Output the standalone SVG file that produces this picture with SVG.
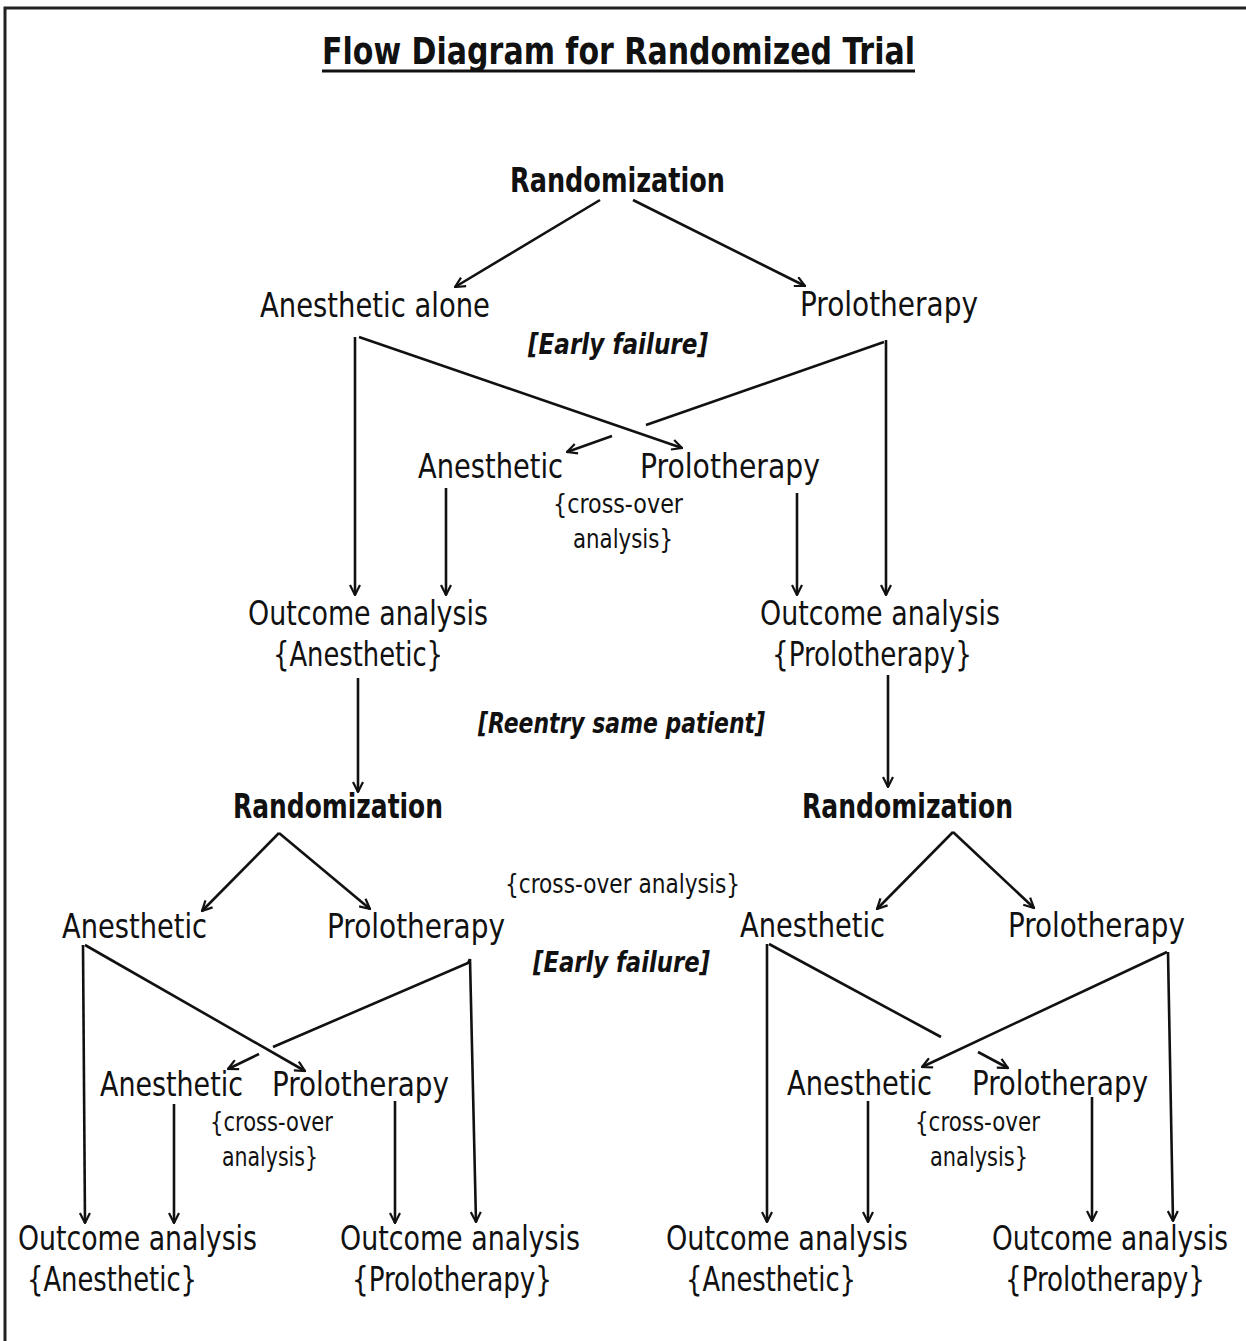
<svg xmlns="http://www.w3.org/2000/svg" width="1246" height="1341" viewBox="0 0 1246 1341">
<defs>
<marker id="ah" viewBox="0 0 12 12" refX="11" refY="6" markerWidth="12" markerHeight="12" markerUnits="userSpaceOnUse" orient="auto">
<path d="M1,1 L11,6 L1,11" fill="none" stroke="#111" stroke-width="2.2"/>
</marker>
<style>
text{font-family:"DejaVu Sans","Liberation Sans",Arial,sans-serif;font-stretch:condensed;fill:#111;}
.t{font-size:38px;font-weight:bold;}
.r{font-size:33px;font-weight:bold;}
.n{font-size:33px;}
.s{font-size:26px;}
.i{font-size:28px;font-style:italic;font-weight:bold;}
.c line,.c polyline{stroke:#111;stroke-width:2.6;fill:none;}
.a{marker-end:url(#ah);}
</style>
</defs>
<rect width="1246" height="1341" fill="#fff"/>
<path d="M5,1341 V8 H1246" fill="none" stroke="#222" stroke-width="3"/>
<g id="title">
<text class="t" x="322" y="64" textLength="593" lengthAdjust="spacingAndGlyphs">Flow Diagram for Randomized Trial</text>
<line x1="322" y1="71" x2="915" y2="71" stroke="#111" stroke-width="3"/>
</g>
<g id="rand1"><text class="r" x="510" y="192" textLength="215" lengthAdjust="spacingAndGlyphs">Randomization</text></g>
<g id="anes-alone"><text class="n" x="260" y="317" textLength="230" lengthAdjust="spacingAndGlyphs">Anesthetic alone</text></g>
<g id="prolo1"><text class="n" x="800" y="316" textLength="178" lengthAdjust="spacingAndGlyphs">Prolotherapy</text></g>
<g id="early1"><text class="i" x="528" y="354" textLength="180" lengthAdjust="spacingAndGlyphs">[Early failure]</text></g>
<g id="anes-x1"><text class="n" x="418" y="478" textLength="145" lengthAdjust="spacingAndGlyphs">Anesthetic</text></g>
<g id="prolo-x1"><text class="n" x="640" y="478" textLength="180" lengthAdjust="spacingAndGlyphs">Prolotherapy</text></g>
<g id="cross1"><text class="s" x="553" y="513" textLength="130" lengthAdjust="spacingAndGlyphs">{cross-over</text><text class="s" x="573" y="548" textLength="100" lengthAdjust="spacingAndGlyphs">analysis}</text></g>
<g id="out-a1"><text class="n" x="248" y="625" textLength="240" lengthAdjust="spacingAndGlyphs">Outcome analysis</text><text class="n" x="273" y="666" textLength="170" lengthAdjust="spacingAndGlyphs">{Anesthetic}</text></g>
<g id="out-p1"><text class="n" x="760" y="625" textLength="240" lengthAdjust="spacingAndGlyphs">Outcome analysis</text><text class="n" x="772" y="666" textLength="200" lengthAdjust="spacingAndGlyphs">{Prolotherapy}</text></g>
<g id="reentry"><text class="i" x="478" y="733" textLength="287" lengthAdjust="spacingAndGlyphs">[Reentry same patient]</text></g>
<g id="rand2"><text class="r" x="233" y="818" textLength="210" lengthAdjust="spacingAndGlyphs">Randomization</text></g>
<g id="rand3"><text class="r" x="802" y="818" textLength="211" lengthAdjust="spacingAndGlyphs">Randomization</text></g>
<g id="cross-mid"><text class="s" x="505" y="893" textLength="235" lengthAdjust="spacingAndGlyphs">{cross-over analysis}</text></g>
<g id="anes2"><text class="n" x="62" y="938" textLength="145" lengthAdjust="spacingAndGlyphs">Anesthetic</text></g>
<g id="prolo2"><text class="n" x="327" y="938" textLength="178" lengthAdjust="spacingAndGlyphs">Prolotherapy</text></g>
<g id="early2"><text class="i" x="533" y="972" textLength="177" lengthAdjust="spacingAndGlyphs">[Early failure]</text></g>
<g id="anes3"><text class="n" x="740" y="937" textLength="145" lengthAdjust="spacingAndGlyphs">Anesthetic</text></g>
<g id="prolo3"><text class="n" x="1008" y="937" textLength="177" lengthAdjust="spacingAndGlyphs">Prolotherapy</text></g>
<g id="anes-x2"><text class="n" x="100" y="1096" textLength="143" lengthAdjust="spacingAndGlyphs">Anesthetic</text></g>
<g id="prolo-x2"><text class="n" x="272" y="1096" textLength="177" lengthAdjust="spacingAndGlyphs">Prolotherapy</text></g>
<g id="cross2"><text class="s" x="210" y="1131" textLength="123" lengthAdjust="spacingAndGlyphs">{cross-over</text><text class="s" x="222" y="1166" textLength="96" lengthAdjust="spacingAndGlyphs">analysis}</text></g>
<g id="anes-x3"><text class="n" x="787" y="1095" textLength="145" lengthAdjust="spacingAndGlyphs">Anesthetic</text></g>
<g id="prolo-x3"><text class="n" x="972" y="1095" textLength="176" lengthAdjust="spacingAndGlyphs">Prolotherapy</text></g>
<g id="cross3"><text class="s" x="915" y="1131" textLength="125" lengthAdjust="spacingAndGlyphs">{cross-over</text><text class="s" x="930" y="1166" textLength="98" lengthAdjust="spacingAndGlyphs">analysis}</text></g>
<g id="out-a2"><text class="n" x="18" y="1250" textLength="239" lengthAdjust="spacingAndGlyphs">Outcome analysis</text><text class="n" x="27" y="1291" textLength="170" lengthAdjust="spacingAndGlyphs">{Anesthetic}</text></g>
<g id="out-p2"><text class="n" x="340" y="1250" textLength="240" lengthAdjust="spacingAndGlyphs">Outcome analysis</text><text class="n" x="352" y="1291" textLength="200" lengthAdjust="spacingAndGlyphs">{Prolotherapy}</text></g>
<g id="out-a3"><text class="n" x="666" y="1250" textLength="242" lengthAdjust="spacingAndGlyphs">Outcome analysis</text><text class="n" x="686" y="1291" textLength="170" lengthAdjust="spacingAndGlyphs">{Anesthetic}</text></g>
<g id="out-p3"><text class="n" style="font-size:27px" transform="translate(992,1250) scale(1,1.22)" x="0" y="0" textLength="236" lengthAdjust="spacingAndGlyphs">Outcome analysis</text><text class="n" x="1005" y="1291" textLength="200" lengthAdjust="spacingAndGlyphs">{Prolotherapy}</text></g>
<g id="connectors" class="c">
<line class="a" x1="600" y1="200" x2="455" y2="287"/>
<line class="a" x1="633" y1="200" x2="805" y2="286"/>
<line class="a" x1="355" y1="337" x2="355" y2="595"/>
<line class="a" x1="359" y1="337" x2="682" y2="448"/>
<line class="a" x1="446" y1="488" x2="446" y2="595"/>
<line x1="884" y1="342" x2="646" y2="425"/>
<line class="a" x1="612" y1="436" x2="567" y2="452"/>
<line class="a" x1="886" y1="340" x2="886" y2="595"/>
<line class="a" x1="797" y1="493" x2="797" y2="595"/>
<line class="a" x1="358" y1="678" x2="358" y2="792"/>
<line class="a" x1="888" y1="675" x2="888" y2="787"/>
<line class="a" x1="279" y1="833" x2="202" y2="911"/>
<line class="a" x1="279" y1="833" x2="370" y2="909"/>
<line class="a" x1="83" y1="945" x2="85" y2="1223"/>
<line class="a" x1="85" y1="945" x2="305" y2="1071"/>
<polyline points="470,959 468,963 273,1047"/>
<line class="a" x1="470" y1="959" x2="476" y2="1222"/>
<line class="a" x1="259" y1="1054" x2="228" y2="1069"/>
<line class="a" x1="174" y1="1104" x2="174" y2="1223"/>
<line class="a" x1="395" y1="1101" x2="395" y2="1223"/>
<line class="a" x1="953" y1="832" x2="877" y2="909"/>
<line class="a" x1="953" y1="832" x2="1034" y2="908"/>
<line class="a" x1="767" y1="944" x2="767" y2="1222"/>
<line x1="769" y1="944" x2="941" y2="1037"/>
<line class="a" x1="978" y1="1052" x2="1008" y2="1068"/>
<line class="a" x1="1168" y1="952" x2="1173" y2="1221"/>
<line class="a" x1="1167" y1="952" x2="922" y2="1067"/>
<line class="a" x1="868" y1="1101" x2="868" y2="1222"/>
<line class="a" x1="1092" y1="1097" x2="1092" y2="1221"/>
</g>
</svg>
